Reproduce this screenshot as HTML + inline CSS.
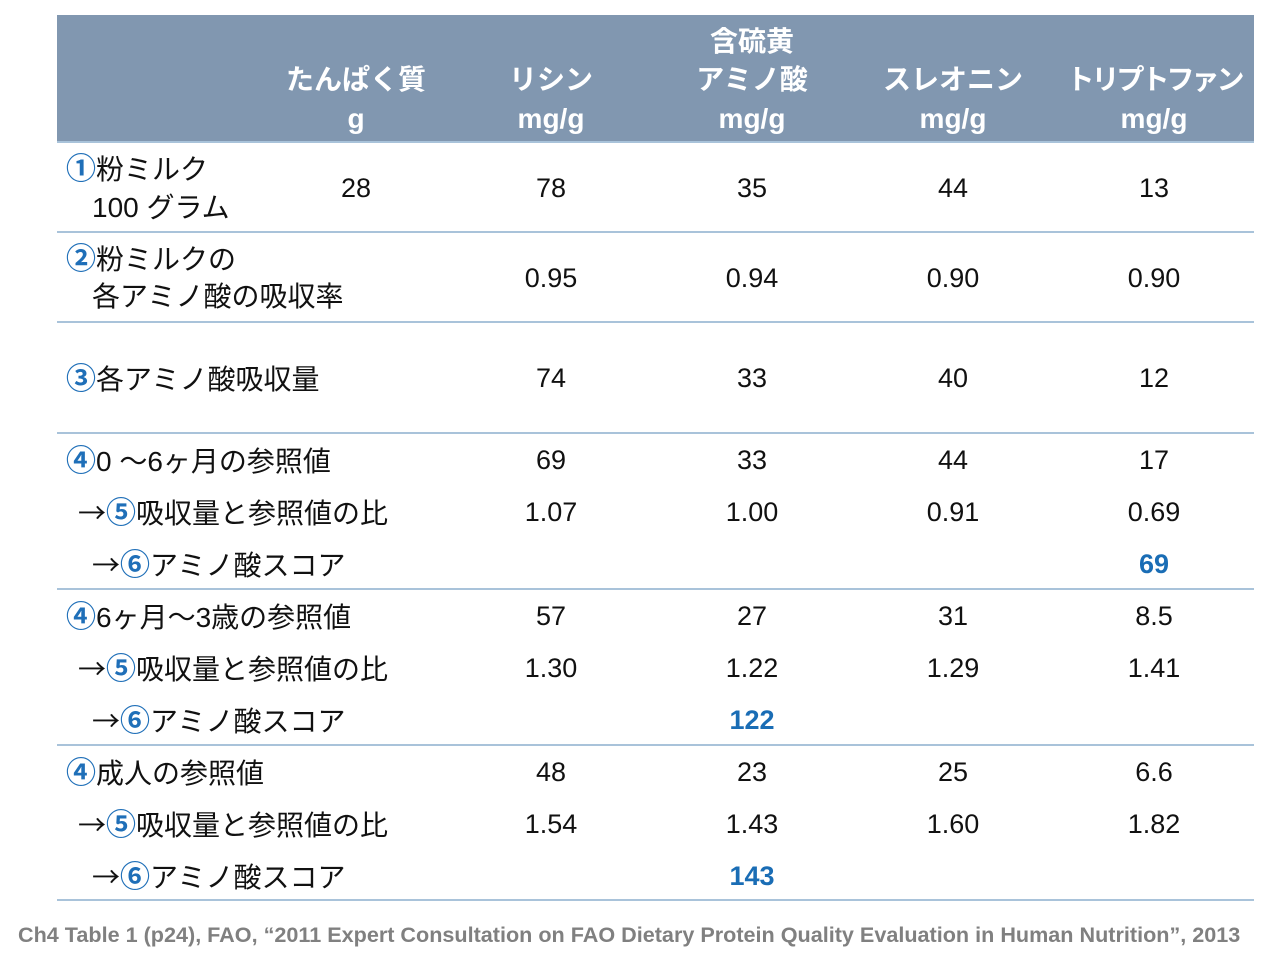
<!DOCTYPE html>
<html><head><meta charset="utf-8">
<style>
html,body{margin:0;padding:0;width:1280px;height:960px;background:#fff;overflow:hidden;}
body{position:relative;font-family:"Liberation Sans","Noto Sans CJK JP",sans-serif;color:#111;}
.hdr{position:absolute;left:57px;top:15px;width:1197px;height:127px;background:#8197b0;}
.line{position:absolute;left:57px;width:1197px;height:2px;background:#a9c3da;}
.t{position:absolute;white-space:nowrap;font-size:27px;line-height:30px;}
.lab{font-size:28px;}
.c{transform:translate(-50%,-50%);}
.l{transform:translateY(-50%);}
.h{color:#fff;font-weight:bold;font-size:28px;}
.n{color:#1f6fb8;font-weight:bold;font-size:30px;font-family:"Noto Sans CJK JP",sans-serif;}
.a{font-family:"Noto Sans CJK JP",sans-serif;}
.b{color:#1a6db5;font-weight:bold;}
.foot{position:absolute;left:18px;top:922px;font-size:21.6px;font-weight:bold;color:#808080;white-space:nowrap;}
</style></head><body>
<div class="hdr"></div>
<div class="t c h" style="left:356px;top:80px">たんぱく質</div>
<div class="t c h" style="left:356px;top:119px">g</div>
<div class="t c h" style="left:551px;top:80px">リシン</div>
<div class="t c h" style="left:551px;top:119px">mg/g</div>
<div class="t c h" style="left:752px;top:42px">含硫黄</div>
<div class="t c h" style="left:752px;top:80px">アミノ酸</div>
<div class="t c h" style="left:752px;top:119px">mg/g</div>
<div class="t c h" style="left:953px;top:80px">スレオニン</div>
<div class="t c h" style="left:953px;top:119px">mg/g</div>
<div class="t c h" style="left:1154px;top:80px;letter-spacing:-3px">トリプトファン</div>
<div class="t c h" style="left:1154px;top:119px">mg/g</div>

<div class="line" style="top:141px"></div>
<div class="line" style="top:231px"></div>
<div class="line" style="top:321px"></div>
<div class="line" style="top:432px"></div>
<div class="line" style="top:588px"></div>
<div class="line" style="top:744px"></div>
<div class="line" style="top:899px"></div>

<!-- Row 1 -->
<div class="t l lab" style="left:66px;top:168px"><span class="n">①</span>粉ミルク</div>
<div class="t l lab" style="left:92px;top:208px">100 グラム</div>
<div class="t c" style="left:356px;top:188px">28</div>
<div class="t c" style="left:551px;top:188px">78</div>
<div class="t c" style="left:752px;top:188px">35</div>
<div class="t c" style="left:953px;top:188px">44</div>
<div class="t c" style="left:1154px;top:188px">13</div>

<!-- Row 2 -->
<div class="t l lab" style="left:66px;top:258px"><span class="n">②</span>粉ミルクの</div>
<div class="t l lab" style="left:92px;top:297px">各アミノ酸の吸収率</div>
<div class="t c" style="left:551px;top:278px">0.95</div>
<div class="t c" style="left:752px;top:278px">0.94</div>
<div class="t c" style="left:953px;top:278px">0.90</div>
<div class="t c" style="left:1154px;top:278px">0.90</div>

<!-- Row 3 -->
<div class="t l lab" style="left:66px;top:378px"><span class="n">③</span>各アミノ酸吸収量</div>
<div class="t c" style="left:551px;top:378px">74</div>
<div class="t c" style="left:752px;top:378px">33</div>
<div class="t c" style="left:953px;top:378px">40</div>
<div class="t c" style="left:1154px;top:378px">12</div>

<!-- Group 0-6 months -->
<div class="t l lab" style="left:66px;top:460px"><span class="n">④</span>0 ～6ヶ月の参照値</div>
<div class="t c" style="left:551px;top:460px">69</div>
<div class="t c" style="left:752px;top:460px">33</div>
<div class="t c" style="left:953px;top:460px">44</div>
<div class="t c" style="left:1154px;top:460px">17</div>
<div class="t l lab" style="left:78px;top:512px"><span class="a">→</span><span class="n">⑤</span>吸収量と参照値の比</div>
<div class="t c" style="left:551px;top:512px">1.07</div>
<div class="t c" style="left:752px;top:512px">1.00</div>
<div class="t c" style="left:953px;top:512px">0.91</div>
<div class="t c" style="left:1154px;top:512px">0.69</div>
<div class="t l lab" style="left:92px;top:564px"><span class="a">→</span><span class="n">⑥</span>アミノ酸スコア</div>
<div class="t c b" style="left:1154px;top:564px">69</div>

<!-- Group 6m-3y -->
<div class="t l lab" style="left:66px;top:616px"><span class="n">④</span>6ヶ月～3歳の参照値</div>
<div class="t c" style="left:551px;top:616px">57</div>
<div class="t c" style="left:752px;top:616px">27</div>
<div class="t c" style="left:953px;top:616px">31</div>
<div class="t c" style="left:1154px;top:616px">8.5</div>
<div class="t l lab" style="left:78px;top:668px"><span class="a">→</span><span class="n">⑤</span>吸収量と参照値の比</div>
<div class="t c" style="left:551px;top:668px">1.30</div>
<div class="t c" style="left:752px;top:668px">1.22</div>
<div class="t c" style="left:953px;top:668px">1.29</div>
<div class="t c" style="left:1154px;top:668px">1.41</div>
<div class="t l lab" style="left:92px;top:720px"><span class="a">→</span><span class="n">⑥</span>アミノ酸スコア</div>
<div class="t c b" style="left:752px;top:720px">122</div>

<!-- Group adult -->
<div class="t l lab" style="left:66px;top:772px"><span class="n">④</span>成人の参照値</div>
<div class="t c" style="left:551px;top:772px">48</div>
<div class="t c" style="left:752px;top:772px">23</div>
<div class="t c" style="left:953px;top:772px">25</div>
<div class="t c" style="left:1154px;top:772px">6.6</div>
<div class="t l lab" style="left:78px;top:824px"><span class="a">→</span><span class="n">⑤</span>吸収量と参照値の比</div>
<div class="t c" style="left:551px;top:824px">1.54</div>
<div class="t c" style="left:752px;top:824px">1.43</div>
<div class="t c" style="left:953px;top:824px">1.60</div>
<div class="t c" style="left:1154px;top:824px">1.82</div>
<div class="t l lab" style="left:92px;top:876px"><span class="a">→</span><span class="n">⑥</span>アミノ酸スコア</div>
<div class="t c b" style="left:752px;top:876px">143</div>

<div class="foot">Ch4 Table 1 (p24), FAO, “2011 Expert Consultation on FAO Dietary Protein Quality Evaluation in Human Nutrition”, 2013</div>
</body></html>
